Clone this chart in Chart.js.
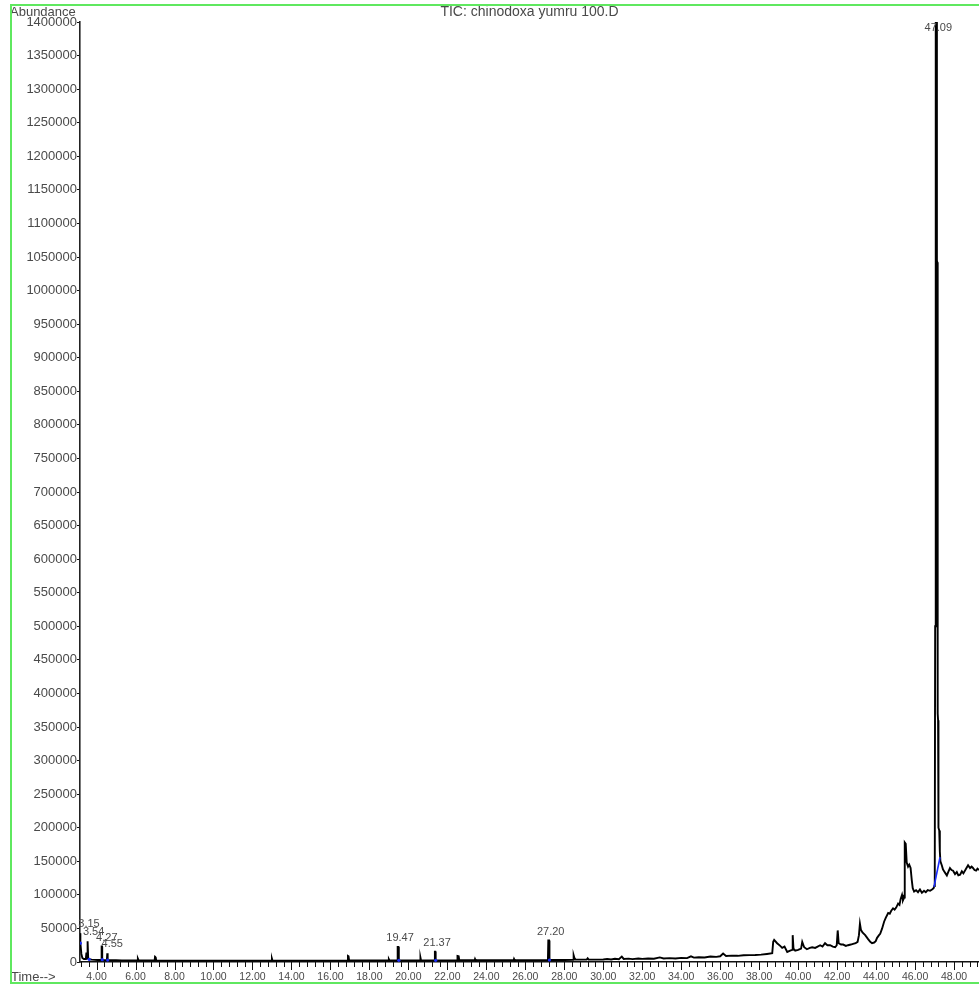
<!DOCTYPE html>
<html>
<head>
<meta charset="utf-8">
<script src="https://cdn.jsdelivr.net/npm/chart.js@4/dist/chart.umd.min.js"></script>
<style>
  html, body { margin: 0; padding: 0; background: #fff; }
  #wrap { width: 979px; height: 987px; overflow: hidden; }
</style>
</head>
<body>
<div id="wrap"><canvas id="c" width="979" height="987"></canvas></div>
<script>
// ---- data (retention time, min / abundance) ----
const times = [
  3.15, 3.17, 3.22, 3.27, 3.35, 3.45, 3.48, 3.50, 3.52, 3.53, 3.55, 3.57, 3.62, 3.75, 3.90, 4.05, 4.20, 4.25, 4.26, 4.28,
  4.29, 4.35, 4.45, 4.53, 4.55, 4.57, 4.65, 4.80, 5.00, 5.30, 5.60, 5.90, 6.08, 6.12, 6.16, 6.50, 6.98, 7.00, 7.03, 7.06,
  7.50, 8.00, 8.50, 9.00, 9.50, 10.0, 10.5, 11.0, 11.5, 12.0, 12.5, 12.98, 13.00, 13.03, 13.50, 14.0, 14.5, 15.0, 15.5, 16.0,
  16.5, 16.88, 16.90, 16.93, 16.96, 17.5, 18.0, 18.5, 18.98, 19.00, 19.03, 19.43, 19.45, 19.49, 19.51, 19.9, 20.3, 20.60, 20.62, 20.65,
  21.0, 21.34, 21.36, 21.38, 21.40, 21.8, 22.2, 22.50, 22.52, 22.58, 22.61, 23.0, 23.40, 23.42, 23.45, 24.0, 24.5, 25.0, 25.40, 25.42,
  25.45, 26.0, 26.5, 27.0, 27.16, 27.18, 27.22, 27.24, 27.6, 28.0, 28.45, 28.48, 28.52, 28.58, 28.9, 29.15, 29.2, 29.25, 29.6, 30.0,
  30.2, 30.4, 30.6, 30.8, 30.95, 31.05, 31.3, 31.5, 31.8, 32.0, 32.3, 32.6, 32.9, 33.1, 33.4, 33.7, 34.0, 34.3, 34.5, 34.65,
  34.9, 35.2, 35.5, 35.8, 36.0, 36.15, 36.3, 36.6, 36.9, 37.2, 37.5, 37.8, 38.1, 38.4, 38.67, 38.72, 38.77, 38.92, 39.08, 39.18,
  39.30, 39.44, 39.59, 39.69, 39.72, 39.76, 39.85, 40.0, 40.15, 40.21, 40.31, 40.45, 40.6, 40.72, 40.87, 41.0, 41.13, 41.25, 41.38, 41.5,
  41.64, 41.78, 41.9, 41.98, 42.03, 42.08, 42.2, 42.31, 42.45, 42.56, 42.7, 42.82, 42.95, 43.05, 43.12, 43.17, 43.22, 43.3, 43.44, 43.59,
  43.7, 43.79, 43.9, 43.98, 44.05, 44.15, 44.21, 44.31, 44.41, 44.5, 44.62, 44.7, 44.77, 44.87, 44.95, 45.03, 45.13, 45.2, 45.26, 45.33,
  45.38, 45.44, 45.47, 45.52, 45.57, 45.64, 45.70, 45.77, 45.83, 45.88, 45.95, 46.05, 46.15, 46.25, 46.35, 46.46, 46.55, 46.65, 46.77, 46.87,
  46.95, 46.98, 47.01, 47.03, 47.05, 47.07, 47.10, 47.12, 47.14, 47.16, 47.18, 47.20, 47.24, 47.27, 47.30, 47.37, 47.43, 47.49, 47.56, 47.63,
  47.7, 47.79, 47.87, 47.95, 48.05, 48.14, 48.22, 48.31, 48.4, 48.48, 48.6, 48.72, 48.82, 48.9, 48.97, 49.05, 49.13, 49.2, 49.28
];
const abundance = [
  43000, 28000, 12000, 6000, 4500, 4500, 14000, 5000, 5000, 31000, 31000, 6000, 4000, 3500, 3200, 3000, 3000, 3200, 23000, 23000,
  3500, 3000, 2800, 2800, 13000, 2800, 2600, 2500, 2500, 2400, 2300, 2300, 2300, 5000, 2300, 2200, 2200, 8000, 7500, 2300,
  2100, 2000, 2000, 2000, 2000, 2000, 2000, 2000, 2000, 2000, 2000, 2000, 5000, 2000, 2000, 2000, 2000, 2000, 2000, 2000,
  2100, 2100, 9000, 8500, 2200, 2200, 2200, 2200, 2200, 4000, 2200, 2300, 22500, 22500, 2500, 2300, 2300, 2300, 6500, 2300,
  2300, 2400, 15500, 15500, 2500, 2400, 2400, 2500, 9000, 8500, 2600, 2500, 2500, 4500, 2500, 2500, 2600, 2600, 2600, 4500,
  2600, 2700, 2700, 2800, 2800, 32000, 32000, 3000, 3000, 3000, 3200, 10000, 6000, 3500, 3500, 3500, 5500, 3500, 3500, 3800,
  4500, 3800, 4800, 4200, 8000, 4500, 5000, 4300, 5200, 4600, 5300, 4800, 6800, 5200, 5800, 5300, 6200, 5800, 8500, 6500,
  7000, 6800, 8200, 7600, 8500, 12500, 9000, 9500, 9200, 10000, 10200, 10500, 11000, 12000, 13000, 30000, 33000, 28000, 24000, 21000,
  23000, 15000, 17000, 18000, 40000, 20000, 17000, 18000, 20000, 30000, 22000, 19000, 21000, 22000, 21000, 23000, 25000, 23000, 28000, 25000,
  25000, 23000, 22000, 25000, 47000, 28000, 26000, 26000, 24000, 25000, 26000, 27000, 28000, 30000, 40000, 57000, 48000, 44000, 40000, 34000,
  30000, 28000, 29000, 31000, 36000, 40000, 42000, 50000, 60000, 66000, 73000, 72000, 76000, 80000, 78000, 81000, 87000, 85000, 94000, 100000,
  92000, 96000, 178000, 176000, 148000, 142000, 145000, 140000, 122000, 110000, 105000, 107000, 104000, 108000, 103000, 106000, 104000, 107000, 106000, 108000,
  110000, 113000, 125000, 500000, 1100000, 1410000, 1410000, 1045000, 1042000, 370000, 360000, 200000, 196000, 165000, 150000, 144000, 138000, 135000, 132000, 129000,
  134000, 140000, 137000, 136000, 131000, 134000, 129000, 130000, 135000, 132000, 138000, 144000, 140000, 142000, 140000, 137000, 136000, 139000, 137000
];

// integration baseline marks (blue)
const baseTimes = [46.97, 47.28];
const baseValues = [112000, 156000];
const baseDotTimes = [3.17, 3.62, 4.29, 4.57, 19.51, 21.40, 27.24];
const baseDotValues = [28000, 4000, 3500, 2800, 2500, 2500, 3000];

// labelled peaks
const peakLabelTimes = [3.15, 3.54, 4.27, 4.55, 19.47, 21.37, 27.20, 47.09];

// axis ticks
const xTickLabels = ['4.00','6.00','8.00','10.00','12.00','14.00','16.00','18.00','20.00','22.00','24.00',
  '26.00','28.00','30.00','32.00','34.00','36.00','38.00','40.00','42.00','44.00','46.00','48.00'];
const yTickValues = [];
for (let v = 0; v <= 1400000; v += 50000) yTickValues.push(v);

const X_MIN = 3.15, X_MAX = 49.28, Y_MAX = 1400000;
const TEXT = '#4a4a4a';

const traceData = times.map((t, i) => ({ x: t, y: abundance[i] }));
const baseData = baseTimes.map((t, i) => ({ x: t, y: baseValues[i] }));
const dotData = baseDotTimes.map((t, i) => ({ x: t, y: baseDotValues[i] }));

function peakValueAt(t) {
  let best = 0;
  times.forEach((tt, i) => { if (Math.abs(tt - t) <= 0.03 && abundance[i] > best) best = abundance[i]; });
  return best;
}

const labelNudge = { '3.15': 9, '3.54': 6, '4.27': 5, '4.55': 5 };

const deco = {
  id: 'deco',
  beforeDraw(chart) {
    const ctx = chart.ctx;
    ctx.save();
    ctx.fillStyle = '#fff';
    ctx.fillRect(0, 0, chart.width, chart.height);
    ctx.restore();
  },
  afterDraw(chart) {
    const { ctx, chartArea, scales } = chart;
    const x = scales.x, y = scales.y;
    ctx.save();
    // x tick marks: minor every 0.4 min, major every 2 min
    ctx.strokeStyle = '#111';
    ctx.lineWidth = 1;
    for (let m = 1; m * 0.4 <= X_MAX; m++) {
      const v = m * 0.4;
      if (v < X_MIN) continue;
      const major = (m % 5 === 0);
      const px = Math.round(x.getPixelForValue(v)) + 0.5;
      ctx.beginPath();
      ctx.moveTo(px, chartArea.bottom);
      ctx.lineTo(px, chartArea.bottom + (major ? 8 : 5));
      ctx.stroke();
    }
    // texts
    ctx.fillStyle = TEXT;
    ctx.textBaseline = 'middle';
    ctx.font = '14px "Liberation Sans", Arial, sans-serif';
    ctx.textAlign = 'center';
    ctx.fillText('TIC: chinodoxa yumru 100.D', (chartArea.left + chartArea.right) / 2, 12);
    ctx.font = '13px "Liberation Sans", Arial, sans-serif';
    ctx.textAlign = 'left';
    ctx.fillText('Abundance', 10, 12);
    ctx.fillText('Time-->', 11, 977);
    // peak labels
    ctx.font = '11px "Liberation Sans", Arial, sans-serif';
    ctx.textAlign = 'center';
    peakLabelTimes.forEach(t => {
      const txt = t.toFixed(2);
      const px = x.getPixelForValue(t) + (labelNudge[txt] !== undefined ? labelNudge[txt] : 2);
      let py = y.getPixelForValue(peakValueAt(t)) - 9;
      if (py < chartArea.top + 6) py = chartArea.top + 6;
      ctx.fillText(txt, px, py);
    });
    // green frame
    ctx.strokeStyle = '#5fe85f';
    ctx.lineWidth = 2;
    ctx.strokeRect(11, 5, 1000, 978);
    ctx.restore();
  }
};

new Chart(document.getElementById('c'), {
  type: 'scatter',
  data: {
    datasets: [
      { data: traceData, showLine: true, borderColor: '#000', borderWidth: 1.9, pointRadius: 0, pointBorderWidth: 0, tension: 0, order: 2 },
      { data: baseData, showLine: true, borderColor: '#1a2cff', borderWidth: 1.6, pointRadius: 0, pointBorderWidth: 0, order: 1 },
      { data: dotData, showLine: false, pointRadius: 1.6, pointBackgroundColor: '#1a2cff', pointBorderWidth: 0, order: 1 }
    ]
  },
  options: {
    responsive: false,
    animation: false,
    devicePixelRatio: 1,
    layout: { autoPadding: false, padding: { top: 22, right: 0, left: 0, bottom: 0 } },
    plugins: { legend: { display: false }, tooltip: { enabled: false }, title: { display: false } },
    scales: {
      x: {
        type: 'linear', min: X_MIN, max: X_MAX,
        grid: { display: false, drawTicks: false },
        border: { display: true, color: '#111', width: 1.6 },
        afterBuildTicks: s => { s.ticks = xTickLabels.map(l => ({ value: parseFloat(l) })); },
        afterFit: s => { s.height = 25; },
        ticks: {
          autoSkip: false, maxRotation: 0, padding: 9, color: TEXT,
          font: { family: '"Liberation Sans", Arial, sans-serif', size: 10.5 },
          callback: v => Number(v).toFixed(2)
        }
      },
      y: {
        type: 'linear', min: 0, max: Y_MAX,
        grid: { display: true, drawOnChartArea: false, drawTicks: true, tickLength: 3, color: '#111' },
        border: { display: true, color: '#222', width: 1.6 },
        afterBuildTicks: s => { s.ticks = yTickValues.map(v => ({ value: v })); },
        afterFit: s => { s.width = 80; },
        ticks: {
          autoSkip: false, padding: 0, color: TEXT,
          font: { family: '"Liberation Sans", Arial, sans-serif', size: 13 },
          callback: v => String(v)
        }
      }
    }
  },
  plugins: [deco]
});
</script>
</body>
</html>
